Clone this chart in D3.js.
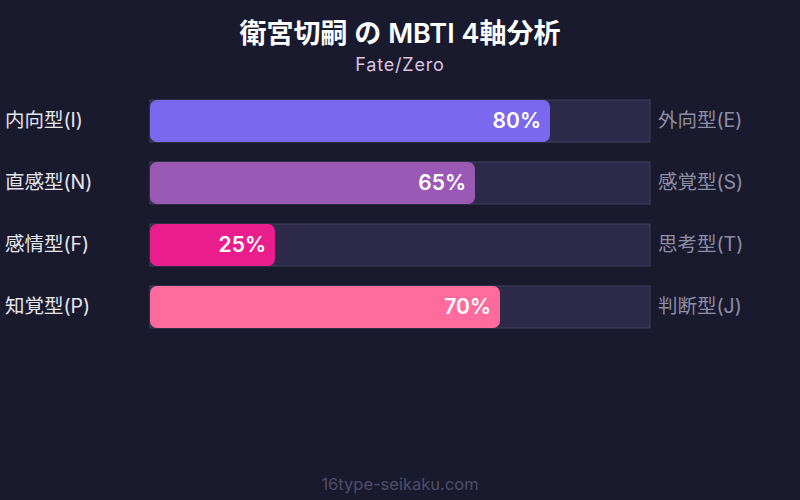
<!DOCTYPE html>
<html>
<head>
<meta charset="utf-8">
<script src="https://cdn.jsdelivr.net/npm/d3@7"></script>
<style>
  body { margin: 0; background: #1a1a2e; }
  text { font-family: Inter, "Noto Sans CJK JP", sans-serif; }
</style>
</head>
<body>
<script>
// data
const leftLabels = ["内向型(I)", "直感型(N)", "感情型(F)", "知覚型(P)"];
const rightLabels = ["外向型(E)", "感覚型(S)", "思考型(T)", "判断型(J)"];
const values = [80, 65, 25, 70];
const barColors = ["#7b68ee", "#9b59b6", "#e91e8c", "#ff6b9d"];

const W = 800, H = 500;
const margin = {left: 150, right: 150, top: 100};

const svg = d3.select("body").append("svg")
  .attr("width", W)
  .attr("height", H)
  .style("background", "#1a1a2e");

svg.append("text")
  .attr("x", W / 2).attr("y", 43)
  .attr("text-anchor", "middle")
  .attr("fill", "#ffffff")
  .style("font-size", "27px")
  .style("font-weight", "600")
  .text("衛宮切嗣 の MBTI 4軸分析");

svg.append("text")
  .attr("x", W / 2).attr("y", 71)
  .attr("text-anchor", "middle")
  .attr("fill", "#dcc3e0")
  .style("font-size", "18px")
  .style("letter-spacing", "0.8px")
  .text("Fate/Zero");

const x = d3.scaleLinear().domain([0, 100]).range([margin.left, W - margin.right]);
// step 62, bar height 42
const y = d3.scaleBand().domain(d3.range(values.length))
  .range([margin.top, margin.top + 62 * values.length - 20])
  .paddingInner(20 / 62).paddingOuter(0);

const rows = svg.selectAll(".row")
  .data(values)
  .enter().append("g")
  .attr("class", "row");

// track
rows.append("rect")
  .attr("x", x(0))
  .attr("y", (d, i) => y(i))
  .attr("width", x(100) - x(0))
  .attr("height", y.bandwidth())
  .attr("fill", "#2c2a48")
  .attr("stroke", "#43415f")
  .attr("stroke-width", 1);

// value bar
rows.append("rect")
  .attr("x", x(0))
  .attr("y", (d, i) => y(i))
  .attr("width", d => x(d) - x(0))
  .attr("height", y.bandwidth())
  .attr("rx", 7)
  .attr("fill", (d, i) => barColors[i]);

rows.append("text")
  .attr("x", d => x(d) - 9)
  .attr("y", (d, i) => y(i) + y.bandwidth() / 2)
  .attr("dy", "0.34em")
  .attr("text-anchor", "end")
  .attr("fill", "#ffffff")
  .style("font-size", "21px")
  .style("font-weight", "600")
  .text(d => d + "%");

rows.append("text")
  .attr("x", 5)
  .attr("y", (d, i) => y(i) + y.bandwidth() / 2)
  .attr("dy", "0.3em")
  .attr("fill", "#e4e4ec")
  .style("font-size", "19.5px")
  .text((d, i) => leftLabels[i]);

rows.append("text")
  .attr("x", x(100) + 8)
  .attr("y", (d, i) => y(i) + y.bandwidth() / 2)
  .attr("dy", "0.3em")
  .attr("fill", "#8e8ea4")
  .style("font-size", "19.5px")
  .text((d, i) => rightLabels[i]);

svg.append("text")
  .attr("x", W / 2).attr("y", 490)
  .attr("text-anchor", "middle")
  .attr("fill", "#4e4e6a")
  .style("font-size", "16.5px")
  .text("16type-seikaku.com");
</script>
</body>
</html>
